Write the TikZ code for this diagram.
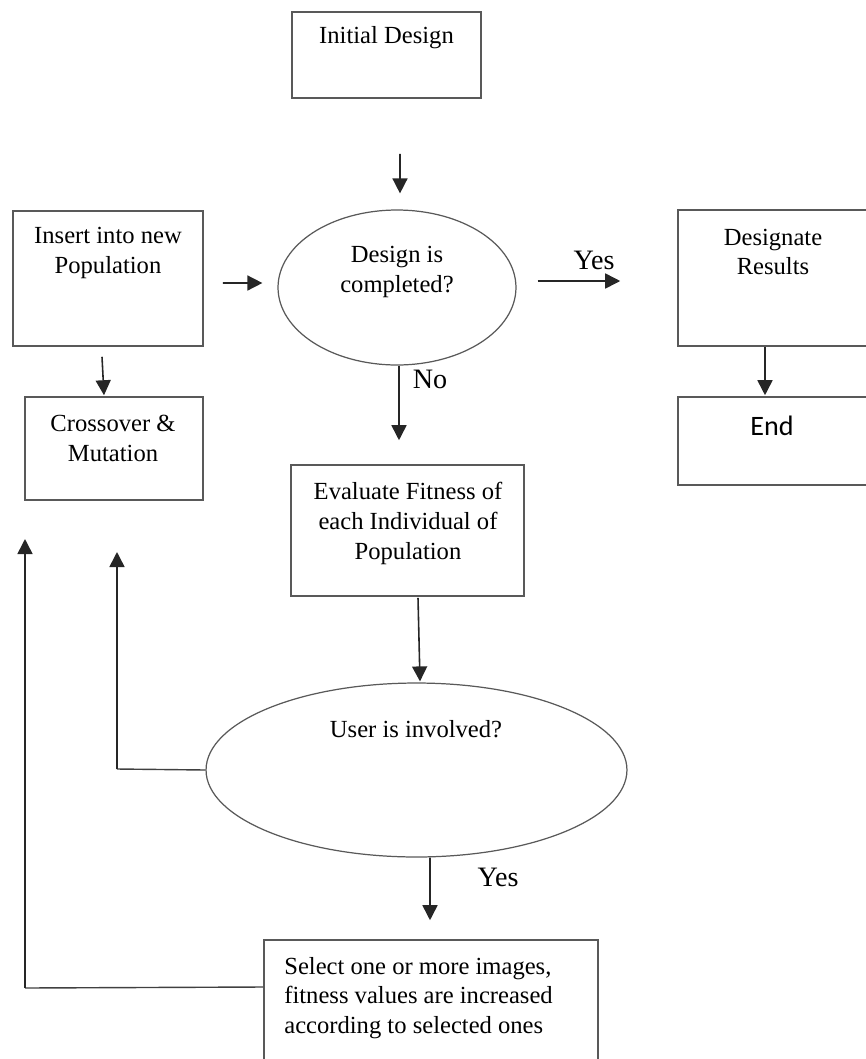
\documentclass[tikz,border=0pt]{standalone}
\usepackage{fontspec}
\setmainfont{Liberation Serif}
\newfontfamily\calib{Carlito}
\usetikzlibrary{arrows.meta,calc,shapes.geometric}
\begin{document}
\begin{tikzpicture}[x=0.02cm,y=-0.02cm,
  box/.style={draw=black!65, line width=0.9pt, rectangle, inner sep=0pt},
  oval/.style={draw=black!65, line width=0.7pt, ellipse, inner sep=0pt},
  arr/.style={-{Triangle[length=0.3cm,width=0.3cm]}, line width=0.9pt, black!85},
  ln/.style={line width=0.8pt, black!75},
  txt/.style={font=\fontsize{14}{17}\selectfont, align=center, inner sep=0pt},
  big/.style={font=\fontsize{16}{19}\selectfont, inner sep=0pt}]
\useasboundingbox (0,0) rectangle (866,1059);

% boxes
\node[box, minimum width=3.78cm, minimum height=1.72cm] (init) at (386.5,55) {};
\node[box, minimum width=3.80cm, minimum height=2.70cm] (ins) at (108,278.5) {};
\node[box, minimum width=3.56cm, minimum height=2.06cm] (cross) at (114,448.5) {};
\node[box, minimum width=3.80cm, minimum height=2.72cm] (desig) at (773,278) {};
\node[box, minimum width=3.80cm, minimum height=1.76cm] (endb) at (773,441) {};
\node[box, minimum width=4.66cm, minimum height=2.62cm] (eval) at (407.5,530.5) {};
\node[box, minimum width=6.68cm, minimum height=2.70cm] (sel) at (431,1007.5) {};
\node[oval, minimum width=4.76cm, minimum height=3.10cm] (dc) at (397,287.5) {};
\node[oval, minimum width=8.42cm, minimum height=3.48cm] (ui) at (416.5,770) {};

% texts
\node[txt] (tinit) at (386.5,38) {Initial Design};
\node[txt] (tins) at (108,253) {Insert into new\\Population};
\node[txt] (tcross) at (113,438) {Crossover \&\\Mutation};
\node[txt] (tdesig) at (773,252) {Designate\\Results};
\node[inner sep=0pt, font=\calib\fontsize{16}{19}\selectfont] (tend) at (772,426) {End};
\node[txt] (tdc) at (397,272) {Design is\\completed?};
\node[txt] (teval) at (408,523.5) {Evaluate Fitness of\\each Individual of\\Population};
\node[txt] (tui) at (416,729) {User is involved?};
\node[txt, align=left, anchor=west] (tsel) at (284,998) {Select one or more images,\\fitness values are increased\\according to selected ones};

% labels
\node[big] (lyes1) at (594,260) {Yes};
\node[big] (lno) at (430,379) {No};
\node[big] (lyes2) at (498,877) {Yes};

% connectors
\draw[arr] ($(init.south)+(13.5,55)$) -- ($(dc.north)+(3,-16)$);
\draw[arr] ($(ins.east)+(19,4.5)$) -- ($(dc.west)+(-15,-4.5)$);
\draw[arr] ($(dc.east)+(21,-6.5)$) -- ($(desig.west)+(-57,3)$);
\draw[arr] ($(desig.south)+(-8,0)$) -- ($(endb.north)+(-8,-1)$);
\draw[arr] ($(dc.south)+(2,0)$) -- ($(eval.north)+(-8.5,-24)$);
\draw[arr] ($(ins.south)+(-6,10)$) -- ($(cross.north)+(-10,-1)$);
\draw[arr] ($(eval.south)+(10.5,1)$) -- ($(ui.north)+(3.5,-1)$);
\draw[arr] ($(ui.south)+(13.5,0)$) -- ($(sel.north)+(-1,-19)$);

\coordinate (fb1) at (117,769);
\coordinate (fb1e) at (117,552);
\draw[ln] (ui.west) -- (fb1);
\draw[arr] (fb1) -- (fb1e);

\coordinate (fb2) at (25,988);
\coordinate (fb2e) at (25,539);
\draw[ln] ($(sel.west)+(0,-20.5)$) -- (fb2);
\draw[arr] (fb2) -- (fb2e);
\end{tikzpicture}
\end{document}
